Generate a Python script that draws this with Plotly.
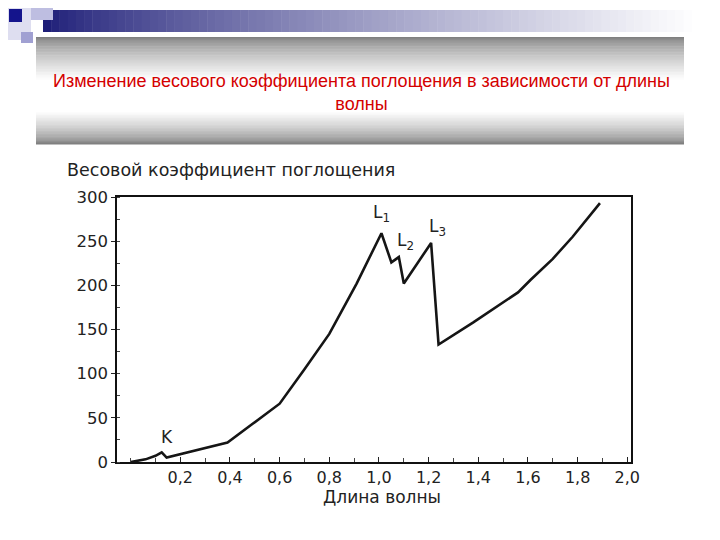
import plotly.graph_objects as go

# Data
wavelength = [0.0, 0.06, 0.10, 0.125, 0.145, 0.25, 0.39, 0.49, 0.56, 0.60, 0.70,
              0.80, 0.91, 1.01, 1.05, 1.08, 1.10, 1.21, 1.24, 1.38, 1.56, 1.61,
              1.70, 1.78, 1.89]
coef = [0, 3, 7, 11, 5, 12, 22, 43, 58, 66, 105,
        145, 202, 259, 226, 232, 202, 248, 133, 158, 192, 206,
        230, 255, 293]

x_ticks = [0.2, 0.4, 0.6, 0.8, 1.0, 1.2, 1.4, 1.6, 1.8, 2.0]
y_ticks = [0, 50, 100, 150, 200, 250, 300]

labels = ["L<sub>1</sub>", "L<sub>2</sub>", "L<sub>3</sub>", "K"]
label_x = [1.01, 1.105, 1.235, 0.145]
label_y = [281, 250, 266, 28]

title = "Изменение весового коэффициента поглощения в зависимости от длины<br>волны"

W, H = 720, 540
OFF = 8  # page body margin, positions below are in page pixels
FONT = "DejaVu Sans, Arial"


def px(x):
    return (x - OFF) / W


def py(y):
    return 1 - (y - OFF) / H


def mix(c1, c2, t):
    t = min(1.0, max(0.0, t))
    return "rgb(%d,%d,%d)" % tuple(round(a + (b - a) * t) for a, b in zip(c1, c2))


fig = go.Figure()
fig.add_trace(go.Scatter(x=wavelength, y=coef, mode="lines",
                         line=dict(color="#151515", width=2.6),
                         showlegend=False, hoverinfo="skip"))

shapes = []

# top navy bar fading to white
n = 80
x0, x1 = 43, 700
for i in range(n):
    t = i / (n - 1)
    shapes.append(dict(type="rect", xref="paper", yref="paper",
                       x0=px(x0 + (x1 - x0) * i / n), x1=px(x0 + (x1 - x0) * (i + 1) / n + 0.5),
                       y0=py(32), y1=py(10), line_width=0, layer="below",
                       fillcolor=mix((30, 30, 120), (255, 255, 255), t ** 0.8)))

# decorative squares
shapes += [
    dict(type="rect", xref="paper", yref="paper", x0=px(0), x1=px(31), y0=py(40), y1=py(0),
         fillcolor="rgb(222,222,240)", line_width=0, layer="below"),
    dict(type="rect", xref="paper", yref="paper", x0=px(31), x1=px(53), y0=py(20), y1=py(0),
         fillcolor="rgb(190,190,225)", line_width=0, layer="below"),
    dict(type="rect", xref="paper", yref="paper", x0=px(21), x1=px(33), y0=py(43), y1=py(32),
         fillcolor="rgb(160,160,210)", line_width=0, layer="below"),
    dict(type="rect", xref="paper", yref="paper", x0=px(9), x1=px(22), y0=py(22), y1=py(9),
         fillcolor="rgb(20,20,140)", line_width=0, layer="above"),
]

# grey title band: grey top/bottom, white middle
gy0, gy1 = 37, 144
n = 70
for i in range(n):
    f = i / (n - 1)
    if f < 0.4:
        t = f / 0.4
    elif f < 0.7:
        t = 1.0
    else:
        t = 1 - (f - 0.7) / 0.3
    shapes.append(dict(type="rect", xref="paper", yref="paper",
                       x0=px(36), x1=px(684),
                       y0=py(gy0 + (gy1 - gy0) * (i + 1) / n + 0.5), y1=py(gy0 + (gy1 - gy0) * i / n),
                       line_width=0, layer="below",
                       fillcolor=mix((128, 128, 128), (255, 255, 255), max(0.0, t) ** 0.7)))

annotations = [
    dict(text=title, xref="paper", yref="paper", x=px(361), y=py(92), showarrow=False,
         font=dict(family="Liberation Sans, Arial", size=18, color="#d40000"),
         xanchor="center", yanchor="middle"),
    dict(text="Весовой коэффициент поглощения", xref="paper", yref="paper",
         x=px(65), y=py(170), showarrow=False, xanchor="left", yanchor="middle",
         font=dict(family=FONT, size=17.5, color="#222")),
    dict(text="Длина волны", xref="paper", yref="paper",
         x=px(382), y=py(497), showarrow=False, xanchor="center", yanchor="middle",
         font=dict(family=FONT, size=17, color="#222")),
]
for t, lx, ly in zip(labels, label_x, label_y):
    annotations.append(dict(text=t, x=lx, y=ly, xref="x", yref="y", showarrow=False,
                            font=dict(family=FONT, size=17, color="#222")))

fig.update_layout(
    width=W, height=H,
    margin=dict(l=0, r=0, t=0, b=0, pad=0),
    paper_bgcolor="white",
    plot_bgcolor="white",
    separators=", ",
    shapes=shapes,
    annotations=annotations,
    xaxis=dict(domain=[px(117), px(631)], range=[-0.055, 2.015], automargin=False,
               tickvals=x_ticks, tickformat=".1f", ticks="inside", ticklen=5,
               tickcolor="#222", showgrid=False, zeroline=False,
               showline=True, linecolor="#111", linewidth=1.5, mirror=True,
               minor=dict(dtick=0.1, tick0=0, ticks="inside", ticklen=4, tickcolor="#444"),
               tickfont=dict(family=FONT, size=16, color="#222")),
    yaxis=dict(domain=[py(462), py(197)], range=[0, 300], automargin=False,
               tickvals=y_ticks, ticks="outside", ticklen=4, tickcolor="#222",
               showgrid=False, zeroline=False,
               showline=True, linecolor="#111", linewidth=1.5, mirror=True,
               minor=dict(dtick=25, ticks="inside", ticklen=3, tickcolor="#444"),
               tickfont=dict(family=FONT, size=16.5, color="#222")),
)

fig.write_html("out.html")
